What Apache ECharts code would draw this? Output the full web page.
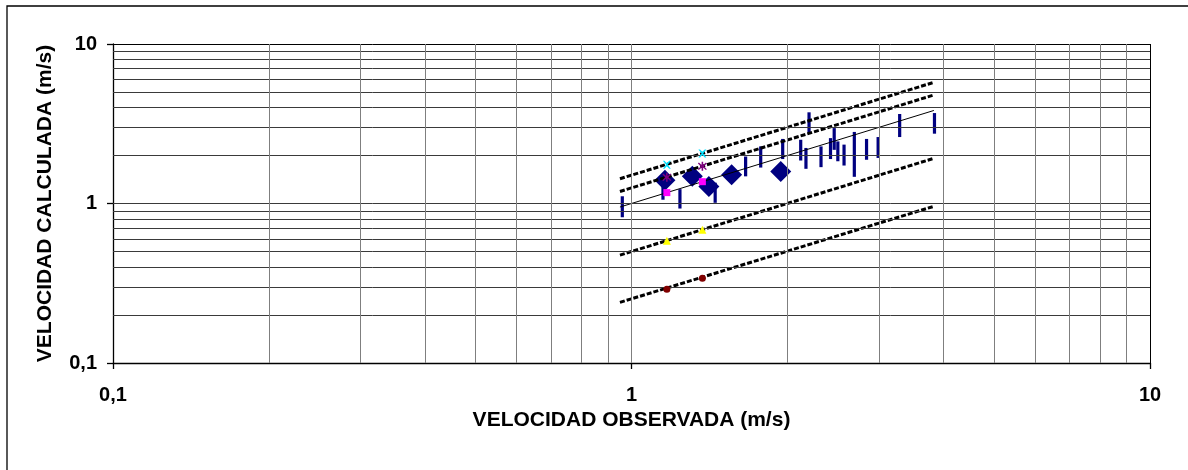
<!DOCTYPE html>
<html>
<head>
<meta charset="utf-8">
<script src="https://cdn.jsdelivr.net/npm/echarts@6/dist/echarts.min.js"></script>
<style>
  html, body { margin: 0; padding: 0; background: #fff; }
  #chart { width: 1188px; height: 470px; }
</style>
</head>
<body>
<div id="chart"></div>
<script>
// Observed vs calculated velocity (log-log), with ratio bands
const tickValues = [0.1, 1, 10];
const tickLabels = ['0,1', '1', '10'];
const gridValues = [0.2, 0.3, 0.4, 0.5, 0.6, 0.7, 0.8, 0.9, 1, 2, 3, 4, 5, 6, 7, 8, 9, 10];

// Reference bands (start and end of each line)
const bandX = [0.95, 3.83];
const band150 = [1.43, 5.75];
const band125 = [1.19, 4.79];
const band100 = [0.95, 3.83];
const band050 = [0.475, 1.92];
const band025 = [0.24, 0.96];

// Points marked on the bands
const markX = [1.17, 1.37];
const mark150 = [1.75, 2.06];
const mark125 = [1.46, 1.71];
const mark100 = [1.17, 1.37];
const mark050 = [0.585, 0.685];
const mark025 = [0.29, 0.34];

// Mean values (diamonds)
const meanObs = [1.16, 1.31, 1.41, 1.56, 1.94];
const meanCalc = [1.40, 1.48, 1.28, 1.515, 1.59];

// Calculated ranges (vertical bars)
const rangeObs  = [0.96, 1.15, 1.24, 1.45, 1.66, 1.775, 1.957, 2.12, 2.17, 2.20, 2.32, 2.42, 2.46, 2.50, 2.57, 2.69, 2.84, 2.99, 3.29, 3.84];
const rangeLow  = [0.82, 1.056, 0.93, 1.01, 1.48, 1.68, 1.90, 1.86, 1.65, 2.77, 1.69, 1.90, 2.17, 1.84, 1.73, 1.47, 1.88, 1.93, 2.61, 2.74];
const rangeHigh = [1.11, 1.41, 1.23, 1.35, 1.97, 2.28, 2.54, 2.51, 2.23, 3.73, 2.28, 2.57, 2.97, 2.45, 2.34, 2.81, 2.54, 2.61, 3.64, 3.69];

const FONT = '"Liberation Sans", Arial, Helvetica, sans-serif';
const zip = (a, b) => a.map((v, i) => [v, b[i]]);
const tickText = v => {
  const i = tickValues.findIndex(t => Math.abs(t - v) < 1e-9);
  return i >= 0 ? tickLabels[i] : '';
};

const crossPath = 'path://M0,0L2,0L5,3L8,0L10,0L6,5L10,10L8,10L5,7L2,10L0,10L4,5Z';
const starPath = 'path://M4.2,0L5.8,0L5.8,3.6L8.6,0.8L9.6,1.8L6.6,5L9.6,8.2L8.6,9.2L5.8,6.4L5.8,10L4.2,10L4.2,6.4L1.4,9.2L0.4,8.2L3.4,5L0.4,1.8L1.4,0.8L4.2,3.6Z';

function bandSeries(name, ys, dashed) {
  return {
    name, type: 'line', data: zip(bandX, ys), showSymbol: false, silent: true,
    z: 4,
    lineStyle: dashed
      ? { color: '#000', width: 3, type: [5, 2], opacity: 1 }
      : { color: '#000', width: 1, opacity: 1 }
  };
}
function markSeries(name, ys, symbol, size, color) {
  return {
    name, type: 'scatter', data: zip(markX, ys), symbol, symbolSize: size,
    itemStyle: { color, opacity: 1 }, silent: true, z: 6
  };
}

const option = {
  animation: false,
  grid: { left: 113, right: 38, top: 44, bottom: 107, containLabel: false },
  graphic: [{
    type: 'rect', shape: { x: 7, y: 6, width: 1200, height: 480 },
    style: { fill: 'none', stroke: '#000', lineWidth: 1.3 }, silent: true, z: -10
  }],
  xAxis: {
    type: 'log', logBase: 10, min: 0.1, max: 10,
    name: 'VELOCIDAD OBSERVADA (m/s)', nameLocation: 'middle', nameGap: 47,
    nameTextStyle: { fontFamily: FONT, fontWeight: 'bold', fontSize: 21, color: '#000' },
    axisLine: { show: true, lineStyle: { color: '#000', width: 1.3 } },
    axisTick: { show: true, length: 6, lineStyle: { color: '#000', width: 1.3 } },
    axisLabel: { formatter: tickText, margin: 22, fontFamily: FONT, fontWeight: 'bold', fontSize: 20, color: '#000' },
    splitLine: { show: false }
  },
  yAxis: {
    type: 'log', logBase: 10, min: 0.1, max: 10,
    name: 'VELOCIDAD CALCULADA (m/s)', nameLocation: 'middle', nameGap: 57,
    nameTextStyle: { fontFamily: FONT, fontWeight: 'bold', fontSize: 21, color: '#000' },
    axisLine: { show: true, lineStyle: { color: '#000', width: 1.3 } },
    axisTick: { show: true, length: 6, lineStyle: { color: '#000', width: 1.3 } },
    axisLabel: { formatter: tickText, margin: 16, fontFamily: FONT, fontWeight: 'bold', fontSize: 20, color: '#000' },
    splitLine: { show: false }
  },
  series: [
    {
      // grid lines of the log-log plot
      name: 'rejilla', type: 'line', data: [], silent: true, z: 1,
      markLine: {
        silent: true, symbol: 'none', label: { show: false }, animation: false,
        data: gridValues.map(v => ({ yAxis: v, lineStyle: { color: v === 10 ? '#000' : '#3a3a3a', width: 1, type: 'solid' } }))
          .concat(gridValues.map(v => ({ xAxis: v, lineStyle: { color: v === 10 ? '#000' : '#7f7f7f', width: 1, type: 'solid' } })))
      }
    },
    {
      name: 'rango', type: 'custom', silent: true, z: 2,
      data: rangeObs.map((x, i) => [x, rangeLow[i], rangeHigh[i]]),
      encode: { x: 0, y: [1, 2] },
      renderItem: (params, api) => {
        const a = api.coord([api.value(0), api.value(1)]);
        const b = api.coord([api.value(0), api.value(2)]);
        return {
          type: 'line',
          shape: { x1: a[0], y1: a[1], x2: b[0], y2: b[1] },
          style: { stroke: '#000080', lineWidth: 3.2 }
        };
      }
    },
    {
      name: 'media', type: 'scatter', data: zip(meanObs, meanCalc),
      symbol: 'diamond', symbolSize: 21, itemStyle: { color: '#000080', opacity: 1 }, silent: true, z: 3
    },
    bandSeries('+50%', band150, true),
    bandSeries('+25%', band125, true),
    bandSeries('1:1', band100, false),
    bandSeries('-50%', band050, true),
    bandSeries('-75%', band025, true),
    markSeries('m150', mark150, crossPath, 8, '#00e0ff'),
    markSeries('m125', mark125, starPath, 9, '#800080'),
    markSeries('m100', mark100, 'rect', 7, '#ff00ff'),
    markSeries('m050', mark050, 'triangle', 8, '#ffff00'),
    markSeries('m025', mark025, 'circle', 7, '#800000')
  ]
};

const chart = echarts.init(document.getElementById('chart'), null, { renderer: 'canvas' });
chart.setOption(option);
</script>
</body>
</html>
